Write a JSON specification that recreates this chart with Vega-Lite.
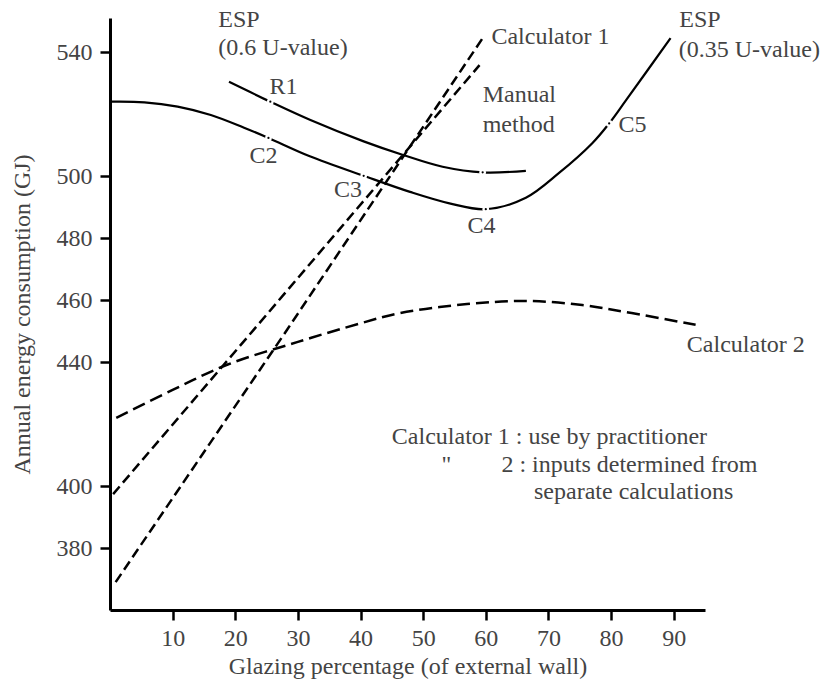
{
  "$schema": "https://vega.github.io/schema/vega-lite/v6.json",
  "width": 595,
  "height": 592,
  "autosize": "none",
  "padding": {"left": 110, "top": 18, "right": 127, "bottom": 72},
  "background": "white",
  "config": {
    "view": {"stroke": null},
    "font": "Liberation Serif",
    "axis": {
      "grid": false,
      "domainColor": "black",
      "domainWidth": 3,
      "tickColor": "black",
      "tickWidth": 2.5,
      "tickSize": 10,
      "labelFont": "Liberation Serif",
      "labelFontSize": 24,
      "labelColor": "#444",
      "titleFont": "Liberation Serif",
      "titleFontSize": 24,
      "titleFontWeight": "normal",
      "titleColor": "#444"
    }
  },
  "datasets": {
    "lines": [
      {"series": "Calculator 1", "x": 0.9, "y": 369},
      {"series": "Calculator 1", "x": 28.3, "y": 450.5},
      {"series": "Calculator 1", "x": 59.5, "y": 544.5},
      {"series": "Manual method", "x": 0.5, "y": 397.4},
      {"series": "Manual method", "x": 22.9, "y": 450.3},
      {"series": "Manual method", "x": 59, "y": 535.8},
      {"series": "Calculator 2", "x": 1, "y": 422},
      {"series": "Calculator 2", "x": 10, "y": 431},
      {"series": "Calculator 2", "x": 18.8, "y": 439.2},
      {"series": "Calculator 2", "x": 30, "y": 446.5},
      {"series": "Calculator 2", "x": 40, "y": 452.5},
      {"series": "Calculator 2", "x": 46.3, "y": 455.8},
      {"series": "Calculator 2", "x": 57, "y": 458.7},
      {"series": "Calculator 2", "x": 66.5, "y": 459.7},
      {"series": "Calculator 2", "x": 75.4, "y": 458.4},
      {"series": "Calculator 2", "x": 83.3, "y": 455.8},
      {"series": "Calculator 2", "x": 93.5, "y": 452},
      {"series": "ESP C", "x": 0.2, "y": 524.0},
      {"series": "ESP C", "x": 5.5, "y": 523.8},
      {"series": "ESP C", "x": 10.8, "y": 522.4},
      {"series": "ESP C", "x": 16.1, "y": 519.7},
      {"series": "ESP C", "x": 21.4, "y": 515.6},
      {"series": "ESP C", "x": 25.3, "y": 512.3},
      {"series": "ESP C", "x": 31.9, "y": 506.4},
      {"series": "ESP C", "x": 40.5, "y": 500.1},
      {"series": "ESP C", "x": 47.9, "y": 494.9},
      {"series": "ESP C", "x": 54.2, "y": 491.2},
      {"series": "ESP C", "x": 60, "y": 489.3},
      {"series": "ESP C", "x": 66.4, "y": 493.0},
      {"series": "ESP C", "x": 71.7, "y": 501},
      {"series": "ESP C", "x": 77, "y": 510.6},
      {"series": "ESP C", "x": 79.7, "y": 517},
      {"series": "ESP C", "x": 82.4, "y": 524.5},
      {"series": "ESP C", "x": 89.5, "y": 544.5},
      {"series": "ESP R", "x": 19.0, "y": 530.4},
      {"series": "ESP R", "x": 25.6, "y": 524.0},
      {"series": "ESP R", "x": 32, "y": 518.1},
      {"series": "ESP R", "x": 40.5, "y": 511.2},
      {"series": "ESP R", "x": 46.8, "y": 506.8},
      {"series": "ESP R", "x": 53.1, "y": 503},
      {"series": "ESP R", "x": 59.5, "y": 501.2},
      {"series": "ESP R", "x": 66.4, "y": 501.7}
    ],
    "breaks": [
      {"x": 25.6, "y": 524.0},
      {"x": 25.3, "y": 512.3},
      {"x": 40.5, "y": 500.1},
      {"x": 59.5, "y": 501.2},
      {"x": 60, "y": 489.3},
      {"x": 79.7, "y": 517}
    ],
    "centerLabels": [
      {"text": "R1", "x": 27.7, "y": 528.7},
      {"text": "C2", "x": 24.5, "y": 506.5},
      {"text": "C3", "x": 38, "y": 495.5},
      {"text": "C4", "x": 59.3, "y": 483.9},
      {"text": "\"", "x": 53.7, "y": 406.8}
    ],
    "leftLabels": [
      {"text": "ESP", "x": 17.3, "y": 550.3},
      {"text": "(0.6 U-value)", "x": 17.3, "y": 541.3},
      {"text": "C5", "x": 81.2, "y": 516.5},
      {"text": "Calculator 1", "x": 60.9, "y": 544.8},
      {"text": "Manual", "x": 59.5, "y": 526.1},
      {"text": "method", "x": 59.5, "y": 516.5},
      {"text": "ESP", "x": 90.9, "y": 550.3},
      {"text": "(0.35 U-value)", "x": 90.8, "y": 540.6},
      {"text": "Calculator 2", "x": 92.1, "y": 445.5},
      {"text": "Calculator 1 : use by practitioner", "x": 45.0, "y": 415.8},
      {"text": "2 : inputs determined from", "x": 62.5, "y": 406.8},
      {"text": "separate calculations", "x": 67.7, "y": 398.1}
    ]
  },
  "encoding": {
    "x": {
      "field": "x",
      "type": "quantitative",
      "scale": {"domain": [0, 95], "nice": false, "zero": false},
      "axis": {
        "title": "Glazing percentage (of external wall)",
        "values": [10, 20, 30, 40, 50, 60, 70, 80, 90],
        "labelPadding": 6,
        "titlePadding": 4
      }
    },
    "y": {
      "field": "y",
      "type": "quantitative",
      "scale": {"domain": [360, 551], "nice": false, "zero": false},
      "axis": {
        "title": "Annual energy consumption (GJ)",
        "values": [380, 400, 440, 460, 480, 500, 540],
        "labelPadding": 8,
        "titlePadding": 22
      }
    }
  },
  "layer": [
    {
      "data": {"name": "lines"},
      "transform": [{"filter": "datum.series === 'Calculator 1'"}],
      "mark": {"type": "line", "color": "black", "strokeWidth": 2.5, "strokeDash": [10, 5]}
    },
    {
      "data": {"name": "lines"},
      "transform": [{"filter": "datum.series === 'Manual method'"}],
      "mark": {"type": "line", "color": "black", "strokeWidth": 2.5, "strokeDash": [10, 5]}
    },
    {
      "data": {"name": "lines"},
      "transform": [{"filter": "datum.series === 'Calculator 2'"}],
      "mark": {"type": "line", "color": "black", "strokeWidth": 2.5, "strokeDash": [13, 6], "interpolate": "catmull-rom"}
    },
    {
      "data": {"name": "lines"},
      "transform": [{"filter": "datum.series === 'ESP C'"}],
      "mark": {"type": "line", "color": "black", "strokeWidth": 2.2, "interpolate": "catmull-rom"}
    },
    {
      "data": {"name": "lines"},
      "transform": [{"filter": "datum.series === 'ESP R'"}],
      "mark": {"type": "line", "color": "black", "strokeWidth": 2.2, "interpolate": "catmull-rom"}
    },
    {
      "data": {"name": "breaks"},
      "mark": {"type": "point", "shape": "circle", "filled": true, "color": "white", "size": 45, "opacity": 1}
    },
    {
      "data": {"name": "breaks"},
      "mark": {"type": "point", "shape": "circle", "filled": true, "color": "black", "size": 5, "opacity": 1}
    },
    {
      "data": {"name": "centerLabels"},
      "mark": {"type": "text", "align": "center", "baseline": "middle", "fontSize": 24, "color": "#444", "font": "Liberation Serif"},
      "encoding": {"text": {"field": "text"}}
    },
    {
      "data": {"name": "leftLabels"},
      "mark": {"type": "text", "align": "left", "baseline": "middle", "fontSize": 24, "color": "#444", "font": "Liberation Serif"},
      "encoding": {"text": {"field": "text"}}
    }
  ]
}
